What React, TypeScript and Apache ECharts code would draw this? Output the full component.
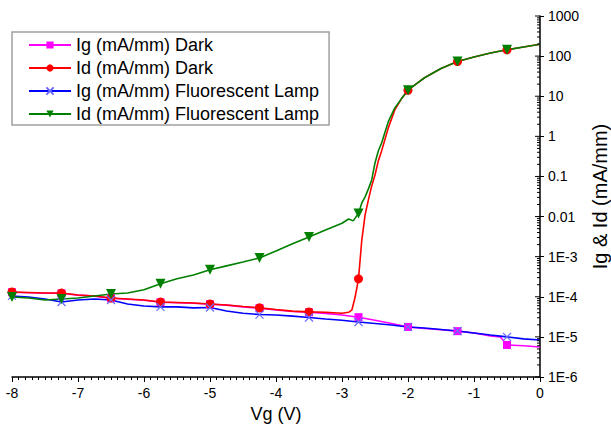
import React, { useEffect, useRef } from "react";
import * as echarts from "echarts";

// ---- Data ----
const vgGrid = [
  -8, -7.75, -7.5, -7.25, -7, -6.75, -6.5, -6.25, -6, -5.75, -5.5, -5.25, -5,
  -4.75, -4.5, -4.25, -4, -3.75, -3.5, -3.25, -3, -2.75, -2.5, -2.25, -2,
  -1.75, -1.5, -1.25, -1, -0.75, -0.5, -0.25, 0,
];

// Ig (mA/mm) Dark
const igDarkV = [
  -8, -7.75, -7.5, -7.25, -7, -6.75, -6.5, -6.25, -6, -5.75, -5.5, -5.25, -5,
  -4.75, -4.5, -4.25, -4, -3.75, -3.5, -3.25, -3, -2.75, -2.5, -2.25, -2,
  -1.75, -1.5, -1.25, -1, -0.75, -0.6, -0.5, -0.25, 0,
];
const igDark = [
  1.3e-4, 1.26e-4, 1.22e-4, 1.22e-4, 1.1e-4, 1.04e-4, 9.2e-5, 8.7e-5, 8.2e-5,
  7.3e-5, 7.1e-5, 6.9e-5, 6.5e-5, 6.2e-5, 5.6e-5, 5.2e-5, 4.7e-5, 4.3e-5,
  4.1e-5, 3.85e-5, 3.5e-5, 3.1e-5, 2.6e-5, 2.16e-5, 1.77e-5, 1.62e-5, 1.5e-5,
  1.39e-5, 1.25e-5, 1.06e-5, 1.0e-5, 6.3e-6, 6.0e-6, 5.6e-6,
];

// Id (mA/mm) Dark
const idDarkV = [
  -8, -7.75, -7.5, -7.25, -7, -6.75, -6.5, -6.25, -6, -5.75, -5.5, -5.25, -5,
  -4.75, -4.5, -4.25, -4, -3.75, -3.5, -3.25, -3, -2.9, -2.85, -2.8, -2.75,
  -2.7, -2.65, -2.6, -2.55, -2.5, -2.45, -2.4, -2.3, -2.2, -2.1, -2, -1.875,
  -1.75, -1.5, -1.25, -1, -0.75, -0.5, -0.25, 0,
];
const idDark = [
  1.32e-4, 1.28e-4, 1.24e-4, 1.24e-4, 1.11e-4, 1.05e-4, 9.3e-5, 8.8e-5, 8.3e-5,
  7.4e-5, 7.2e-5, 7.0e-5, 6.6e-5, 6.25e-5, 5.7e-5, 5.3e-5, 4.8e-5, 4.4e-5,
  4.2e-5, 4.1e-5, 3.9e-5, 4.1e-5, 4.7e-5, 1.0e-4, 2.8e-4, 2.6e-3, 0.011, 0.026,
  0.058, 0.109, 0.244, 0.43, 1.6, 4.55, 8.6, 14.1, 20.3, 28.9, 49, 73, 95.5,
  119, 144, 169, 198,
];

// Ig (mA/mm) Fluorescent Lamp
const igLamp = [
  1.05e-4, 9.9e-5, 8.8e-5, 7.4e-5, 8.3e-5, 8.8e-5, 8.3e-5, 6.6e-5, 5.9e-5,
  5.6e-5, 5.6e-5, 5.3e-5, 5.4e-5, 4.4e-5, 3.9e-5, 3.6e-5, 3.5e-5, 3.3e-5,
  3.05e-5, 2.8e-5, 2.6e-5, 2.35e-5, 2.16e-5, 1.98e-5, 1.77e-5, 1.67e-5,
  1.53e-5, 1.4e-5, 1.25e-5, 1.11e-5, 1.0e-5, 8.9e-6, 8.4e-6,
];

// Id (mA/mm) Fluorescent Lamp
const idLampV = [
  -8, -7.75, -7.5, -7.25, -7, -6.75, -6.5, -6.25, -6, -5.75, -5.5, -5.25, -5,
  -4.75, -4.5, -4.25, -4, -3.75, -3.5, -3.25, -3, -2.9, -2.83, -2.75, -2.7,
  -2.65, -2.6, -2.55, -2.5, -2.45, -2.4, -2.3, -2.2, -2.1, -2, -1.875, -1.75,
  -1.5, -1.25, -1, -0.75, -0.5, -0.25, 0,
];
const idLamp = [
  9.9e-5, 9.3e-5, 8.3e-5, 8.8e-5, 9.3e-5, 1.05e-4, 1.17e-4, 1.24e-4, 1.5e-4,
  2.1e-4, 2.8e-4, 3.5e-4, 4.7e-4, 5.9e-4, 7.4e-4, 9.3e-4, 1.39e-3, 2.1e-3,
  3.1e-3, 4.6e-3, 6.8e-3, 8.7e-3, 7.8e-3, 0.012, 0.0218, 0.031, 0.049, 0.082,
  0.217, 0.43, 0.68, 2.29, 5.1, 8.6, 14.1, 20.3, 28.9, 49, 73, 95.5, 119, 144,
  169, 198,
];

const seriesNames = [
  "Ig (mA/mm) Dark",
  "Id (mA/mm) Dark",
  "Ig (mA/mm) Fluorescent Lamp",
  "Id (mA/mm) Fluorescent Lamp",
];
const xTicks = [-8, -7, -6, -5, -4, -3, -2, -1, 0];
const yTickLabels = ["1E-6", "1E-5", "1E-4", "1E-3", "0.01", "0.1", "1", "10", "100", "1000"];

const FONT = "'Liberation Sans', Arial, sans-serif";
const MARK_START = -8;
const MARK_STEP = 0.75;

function isMarker(v: number) {
  const k = (v - MARK_START) / MARK_STEP;
  return Math.abs(k - Math.round(k)) < 1e-6;
}

function buildData(xs: number[], ys: number[]) {
  return xs.map((x, i) => {
    const item: any = { value: [x, ys[i]] };
    if (!isMarker(x)) item.symbol = "none";
    return item;
  });
}

export default function App() {
  const ref = useRef<HTMLDivElement>(null);

  useEffect(() => {
    if (!ref.current) return;
    const chart = echarts.init(ref.current, undefined, { renderer: "svg" });

    // log-spaced y ticks drawn on the inner side of the right axis
    const yTickData: number[][] = [];
    for (let e = -6; e <= 3; e++) {
      for (let k = 1; k <= 9; k++) {
        const v = k * Math.pow(10, e);
        if (e === 3 && k > 1) break;
        yTickData.push([0, v, k === 1 ? 1 : 0]);
      }
    }

    const common = {
      type: "line",
      smooth: false,
      symbolSize: 9,
      showSymbol: true,
      lineStyle: { width: 1.6 },
      emphasis: { disabled: true },
    };

    const option: any = {
      animation: false,
      backgroundColor: "#ffffff",
      textStyle: { fontFamily: FONT },
      grid: { left: 12, right: 71, top: 16, bottom: 60, containLabel: false, outerBoundsMode: "none" },
      legend: {
        orient: "vertical",
        left: 12,
        top: 32,
        padding: [3, 10, 1, 16],
        itemWidth: 42,
        itemHeight: 9,
        itemGap: 3,
        data: seriesNames,
        textStyle: { fontSize: 18, fontFamily: FONT, color: "#000", lineHeight: 20 },
        borderColor: "#a0a0a0",
        borderWidth: 1.5,
        backgroundColor: "#ffffff",
        selectedMode: false,
      },
      xAxis: {
        type: "value",
        min: -8,
        max: 0,
        interval: 1,
        name: "Vg (V)",
        nameLocation: "middle",
        nameGap: 27,
        nameTextStyle: { fontSize: 18, color: "#000", fontFamily: FONT },
        axisLine: { show: true, onZero: false, lineStyle: { color: "#000", width: 1.5 } },
        axisTick: { show: true, length: 5, lineStyle: { color: "#000", width: 1 } },
        minorTick: { show: true, splitNumber: 10, length: 3, lineStyle: { color: "#000", width: 1 } },
        axisLabel: {
          fontSize: 14,
          color: "#000",
          margin: 9,
          fontFamily: FONT,
          formatter: (v: number) => (xTicks.includes(v) ? String(v) : ""),
        },
        splitLine: { show: false },
      },
      yAxis: {
        type: "log",
        logBase: 10,
        min: 1e-6,
        max: 1000,
        splitNumber: 9,
        position: "right",
        name: "Ig & Id (mA/mm)",
        nameLocation: "middle",
        nameGap: 50,
        nameRotate: 90,
        nameTextStyle: { fontSize: 20, color: "#000", fontFamily: FONT },
        axisLine: { show: true, onZero: false, lineStyle: { color: "#000", width: 1.5 } },
        axisTick: { show: true, inside: false, length: 4, lineStyle: { color: "#000", width: 1 } },
        minorTick: { show: false },
        axisLabel: {
          fontSize: 14,
          color: "#000",
          margin: 8,
          fontFamily: FONT,
          formatter: (v: number) => {
            const e = Math.round(Math.log10(v));
            return yTickLabels[e + 6] ?? "";
          },
        },
        splitLine: { show: false },
      },
      series: [
        {
          ...common,
          name: seriesNames[0],
          symbol: "rect",
          symbolSize: 8,
          color: "#ff00ff",
          itemStyle: { color: "#ff00ff" },
          lineStyle: { width: 1.6, color: "#ff00ff" },
          data: buildData(igDarkV, igDark),
        },
        {
          ...common,
          name: seriesNames[1],
          symbol: "circle",
          symbolSize: 9,
          color: "#ff0000",
          itemStyle: { color: "#ff0000" },
          lineStyle: { width: 1.6, color: "#ff0000" },
          data: buildData(idDarkV, idDark),
        },
        {
          ...common,
          name: seriesNames[2],
          symbol: "path://M0,0L10,10M10,0L0,10",
          symbolSize: 8,
          color: "#0000ff",
          itemStyle: { color: "#0000ff", borderColor: "#6a6aff", borderWidth: 1.2 },
          lineStyle: { width: 1.6, color: "#0000ff" },
          data: buildData(vgGrid, igLamp),
        },
        {
          ...common,
          name: seriesNames[3],
          symbol: "path://M0,0L10,0L5,9Z",
          symbolSize: 10,
          color: "#008000",
          itemStyle: { color: "#008000" },
          lineStyle: { width: 1.6, color: "#008000" },
          data: buildData(idLampV, idLamp),
        },
        {
          type: "custom",
          name: "yticks",
          silent: true,
          clip: false,
          z: 5,
          data: yTickData,
          renderItem: (params: any, api: any) => {
            const p = api.coord([0, api.value(1)]);
            const major = api.value(2) === 1;
            const len = major ? 5 : 3;
            return {
              type: "line",
              shape: { x1: p[0] - len, y1: p[1], x2: p[0], y2: p[1] },
              style: { stroke: "#000", lineWidth: 1 },
            };
          },
        },
      ],
    };

    chart.setOption(option);
    return () => chart.dispose();
  }, []);

  return (
    <div
      ref={ref}
      style={{ position: "fixed", left: 0, top: 0, width: 611, height: 437, background: "#fff" }}
    />
  );
}
